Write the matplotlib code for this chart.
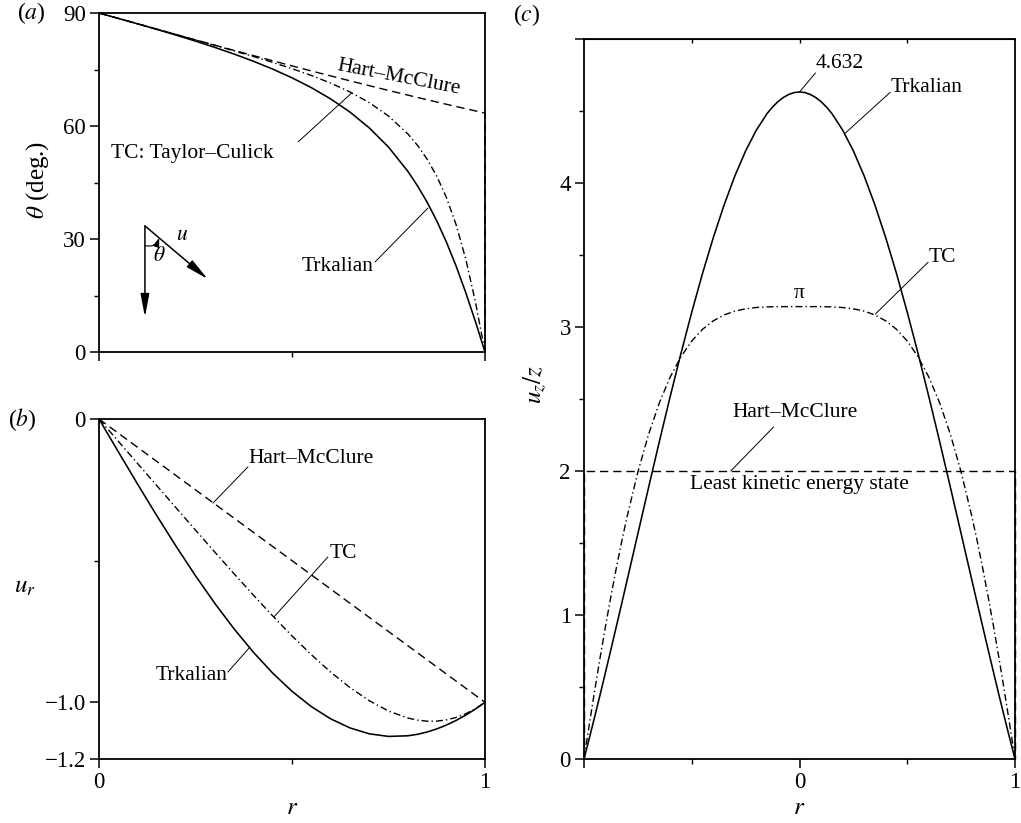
import matplotlib
matplotlib.use('Agg')
import matplotlib.pyplot as plt
from matplotlib.ticker import FixedLocator, NullFormatter

plt.rcParams['font.family'] = ['Liberation Serif', 'DejaVu Serif']
plt.rcParams['mathtext.fontset'] = 'stix'
plt.rcParams['font.size'] = 15.5

# ---------------- data ----------------
# radial grid for panels (a) and (b)
r_ab = [0.00, 0.05, 0.10, 0.15, 0.20, 0.25, 0.30, 0.35, 0.40, 0.45, 0.50,
        0.55, 0.60, 0.65, 0.70, 0.75, 0.80, 0.825, 0.85, 0.875, 0.90, 0.925,
        0.95, 0.975, 1.00]

# (a) flow angle theta (deg.)
trk_theta = [90.00, 88.57, 87.12, 85.64, 84.12, 82.54, 80.87, 79.10, 77.19, 75.11, 72.79,
             70.19, 67.20, 63.71, 59.52, 54.40, 47.99, 44.14, 39.78, 34.82, 29.19, 22.85,
             15.81, 8.14, 0.00]
tc_theta = [90.00, 88.57, 87.14, 85.71, 84.28, 82.85, 81.41, 79.95, 78.45, 76.89, 75.23,
            73.42, 71.39, 69.05, 66.22, 62.65, 57.92, 54.88, 51.20, 46.68, 41.02, 33.84,
            24.73, 13.39, 0.00]
hm_r_theta = [0.00, 0.05, 0.10, 0.15, 0.20, 0.25, 0.30, 0.35, 0.40, 0.45, 0.50,
              0.55, 0.60, 0.65, 0.70, 0.75, 0.80, 0.85, 0.90, 0.95, 1.00, 1.00]
hm_theta = [90.00, 88.57, 87.14, 85.71, 84.29, 82.87, 81.47, 80.07, 78.69, 77.32, 75.96,
            74.62, 73.30, 72.00, 70.71, 69.44, 68.20, 66.97, 65.77, 64.59, 63.43, 0.00]

# (b) radial velocity u_r
trk_ur = [0.0, -0.1156, -0.2299, -0.3418, -0.4499, -0.5533, -0.6506, -0.7407, -0.8233, -0.8969,
          -0.9610, -1.0150, -1.0581, -1.0902, -1.1111, -1.1203, -1.1181, -1.1129, -1.1047,
          -1.0938, -1.0802, -1.0640, -1.0453, -1.0238, -1.0]
tc_ur = [0.0, -0.0785, -0.1571, -0.2356, -0.3140, -0.3921, -0.4697, -0.5464, -0.6217, -0.6950,
         -0.7654, -0.8318, -0.8931, -0.9477, -0.9942, -1.0307, -1.0554, -1.0628, -1.0665,
         -1.0663, -1.0620, -1.0534, -1.0403, -1.0226, -1.0]
hm_r_ur = [0.0, 1.0]
hm_ur = [0.0, -1.0]

# (c) axial velocity u_z/z (half profile, symmetric in r)
r_c = [0.00, 0.025, 0.05, 0.075, 0.10, 0.125, 0.15, 0.20, 0.25, 0.30, 0.35, 0.40, 0.45, 0.50,
       0.55, 0.60, 0.65, 0.70, 0.75, 0.80, 0.825, 0.85, 0.875, 0.90, 0.925, 0.95, 0.975, 1.00]
trk_uz = [4.632, 4.628, 4.615, 4.594, 4.565, 4.528, 4.483, 4.368, 4.223, 4.049, 3.847, 3.621,
          3.372, 3.103, 2.817, 2.517, 2.207, 1.888, 1.565, 1.241, 1.080, 0.920, 0.761, 0.604,
          0.448, 0.296, 0.146, 0.0]
tc_uz = [3.1416, 3.1416, 3.1416, 3.1415, 3.1412, 3.1407, 3.1396, 3.1354, 3.1264, 3.1102,
         3.0836, 3.0429, 2.9840, 2.9025, 2.7935, 2.6525, 2.4748, 2.2561, 1.9930, 1.6834,
         1.5108, 1.3265, 1.1306, 0.9238, 0.7064, 0.4792, 0.2434, 0.0]
hm_r_uz = [-1.0, -1.0, 1.0, 1.0]
hm_uz = [0.0, 2.0, 2.0, 0.0]

peak_label = '4.632'

# full symmetric profiles for panel (c)
r_full = [-v for v in r_c[::-1]] + r_c[1:]
trk_uz_full = trk_uz[::-1] + trk_uz[1:]
tc_uz_full = tc_uz[::-1] + tc_uz[1:]

# ---------------- figure ----------------
W, H = 1021, 823
fig = plt.figure(figsize=(W / 100, H / 100), dpi=100)


def box(l, t, r, b):
    return [l / W, 1 - b / H, (r - l) / W, (b - t) / H]


axa = fig.add_axes(box(99, 13, 485, 352))
axb = fig.add_axes(box(99, 419, 485, 759))
axc = fig.add_axes(box(584, 39, 1015, 759))

solid = dict(color='black', lw=1.15, ls='-', clip_on=False)
dash = dict(color='black', lw=1.0, ls=(0, (6, 3.5)), clip_on=False)
dashdot = dict(color='black', lw=1.0, ls=(0, (5, 2.2, 1, 2.2)), clip_on=False)
lead = dict(arrowstyle='-', lw=0.7, color='black', shrinkA=0, shrinkB=0)
TS = 16.5   # tick label size
AS = 15.5   # annotation size


def style(ax):
    for s in ax.spines.values():
        s.set_linewidth(1.3)
    ax.tick_params(which='major', direction='out', length=6.5, width=1.1,
                   labelsize=TS, pad=3)
    ax.tick_params(which='minor', direction='out', length=3.5, width=1.0)


# ---- panel (a)
axa.plot(r_ab, trk_theta, **solid)
axa.plot(r_ab, tc_theta, **dashdot)
axa.plot(hm_r_theta, hm_theta, **dash)
axa.set_xlim(0, 1)
axa.set_ylim(0, 90)
axa.yaxis.set_major_locator(FixedLocator([0, 30, 60, 90]))
axa.yaxis.set_minor_locator(FixedLocator([15, 45, 75]))
axa.xaxis.set_major_locator(FixedLocator([0, 1]))
axa.xaxis.set_minor_locator(FixedLocator([0.5]))
axa.xaxis.set_major_formatter(NullFormatter())
style(axa)

axa.text(0.777, 73.0, 'Hart–McClure', rotation=-11, ha='center', va='center', fontsize=AS)
axa.text(0.03, 52.8, 'TC: Taylor–Culick', ha='left', va='center', fontsize=AS)
axa.annotate('', xy=(0.655, 68.8), xytext=(0.516, 55.8), arrowprops=lead)
axa.text(0.619, 22.6, 'Trkalian', ha='center', va='center', fontsize=AS)
axa.annotate('', xy=(0.852, 38.2), xytext=(0.715, 23.9), arrowprops=lead)

# inset sketch of the velocity vector
tr = axa.transAxes
vtx = (0.119, 0.372)
head = dict(arrowstyle='-|>,head_length=0.9,head_width=0.17',
            lw=1.1, color='black', shrinkA=0, shrinkB=0)
axa.annotate('', xy=(0.119, 0.103), xytext=vtx, xycoords=tr, textcoords=tr, arrowprops=head)
axa.annotate('', xy=(0.282, 0.215), xytext=vtx, xycoords=tr, textcoords=tr, arrowprops=head)
axa.annotate('', xy=(0.156, 0.337), xytext=(0.119, 0.314), xycoords=tr, textcoords=tr,
             arrowprops=dict(arrowstyle='-|>,head_length=0.35,head_width=0.12',
                             lw=0.8, color='black', shrinkA=0, shrinkB=0,
                             connectionstyle='arc3,rad=0.45'))
axa.text(0.155, 0.283, r'$\theta$', transform=tr, ha='center', va='center', fontsize=AS)
axa.text(0.215, 0.345, r'$u$', transform=tr, ha='center', va='center', fontsize=AS)

# ---- panel (b)
axb.plot(r_ab, trk_ur, **solid)
axb.plot(r_ab, tc_ur, **dashdot)
axb.plot(hm_r_ur, hm_ur, **dash)
axb.set_xlim(0, 1)
axb.set_ylim(-1.2, 0)
axb.yaxis.set_major_locator(FixedLocator([-1.2, -1.0, 0]))
axb.yaxis.set_minor_locator(FixedLocator([-0.5]))
axb.set_yticklabels(['\u22121.2', '\u22121.0', '0'])
axb.xaxis.set_major_locator(FixedLocator([0, 1]))
axb.xaxis.set_minor_locator(FixedLocator([0.5]))
axb.set_xticklabels(['0', '1'])
style(axb)

axb.text(0.386, -0.138, 'Hart–McClure', ha='left', va='center', fontsize=AS)
axb.annotate('', xy=(0.295, -0.297), xytext=(0.386, -0.169), arrowprops=lead)
axb.text(0.598, -0.473, 'TC', ha='left', va='center', fontsize=AS)
axb.annotate('', xy=(0.453, -0.699), xytext=(0.593, -0.487), arrowprops=lead)
axb.text(0.332, -0.904, 'Trkalian', ha='right', va='center', fontsize=AS)
axb.annotate('', xy=(0.391, -0.805), xytext=(0.334, -0.893), arrowprops=lead)

# ---- panel (c)
axc.plot(r_full, trk_uz_full, **solid)
axc.plot(r_full, tc_uz_full, **dashdot)
axc.plot(hm_r_uz, hm_uz, **dash)
axc.set_xlim(-1, 1)
axc.set_ylim(0, 5)
axc.yaxis.set_major_locator(FixedLocator([0, 1, 2, 3, 4, 5]))
axc.set_yticklabels(['0', '1', '2', '3', '4', ''])
axc.yaxis.set_minor_locator(FixedLocator([0.5, 1.5, 2.5, 3.5, 4.5]))
axc.xaxis.set_major_locator(FixedLocator([-1, 0, 1]))
axc.set_xticklabels(['', '0', '1'])
axc.xaxis.set_minor_locator(FixedLocator([-0.5, 0.5]))
style(axc)
sec = axc.secondary_xaxis('top')
sec.set_xticks([-0.5, 0, 0.5])
sec.set_xticklabels([])
sec.tick_params(direction='in', length=3, width=1.0)

ipk = len(r_c) - 1
axc.text(0.185, 4.833, peak_label, ha='center', va='center', fontsize=AS)
axc.annotate('', xy=(r_full[ipk], trk_uz_full[ipk]), xytext=(0.074, 4.764), arrowprops=lead)
axc.text(0.421, 4.66, 'Trkalian', ha='left', va='center', fontsize=AS)
axc.annotate('', xy=(0.213, 4.347), xytext=(0.421, 4.63), arrowprops=lead)
axc.text(0.597, 3.486, 'TC', ha='left', va='center', fontsize=AS)
axc.annotate('', xy=(0.352, 3.09), xytext=(0.597, 3.45), arrowprops=lead)
axc.text(0.0, 3.236, 'π', ha='center', va='center', fontsize=AS)
axc.text(-0.019, 2.403, 'Hart–McClure', ha='center', va='center', fontsize=AS)
axc.annotate('', xy=(-0.319, 2.0), xytext=(-0.12, 2.306), arrowprops=lead)
axc.text(0.0, 1.903, 'Least kinetic energy state', ha='center', va='center', fontsize=AS)

# ---- labels
LS = 18
fig.text(31 / W, 1 - 13 / H, '($a$)', ha='center', va='center', fontsize=17)
fig.text(22 / W, 1 - 420 / H, '($b$)', ha='center', va='center', fontsize=17)
fig.text(527 / W, 1 - 15 / H, '($c$)', ha='center', va='center', fontsize=17)
fig.text(38 / W, 1 - 180 / H, r'$\theta$ (deg.)', rotation=90, ha='center', va='center', fontsize=LS)
fig.text(25 / W, 1 - 587 / H, r'$u_r$', ha='center', va='center', fontsize=LS)
fig.text(535 / W, 1 - 385 / H, r'$u_z/z$', rotation=90, ha='center', va='center', fontsize=LS)
fig.text(292 / W, 1 - 808 / H, r'$r$', ha='center', va='center', fontsize=LS)
fig.text(799 / W, 1 - 808 / H, r'$r$', ha='center', va='center', fontsize=LS)

fig.savefig('out.png', dpi=100)
